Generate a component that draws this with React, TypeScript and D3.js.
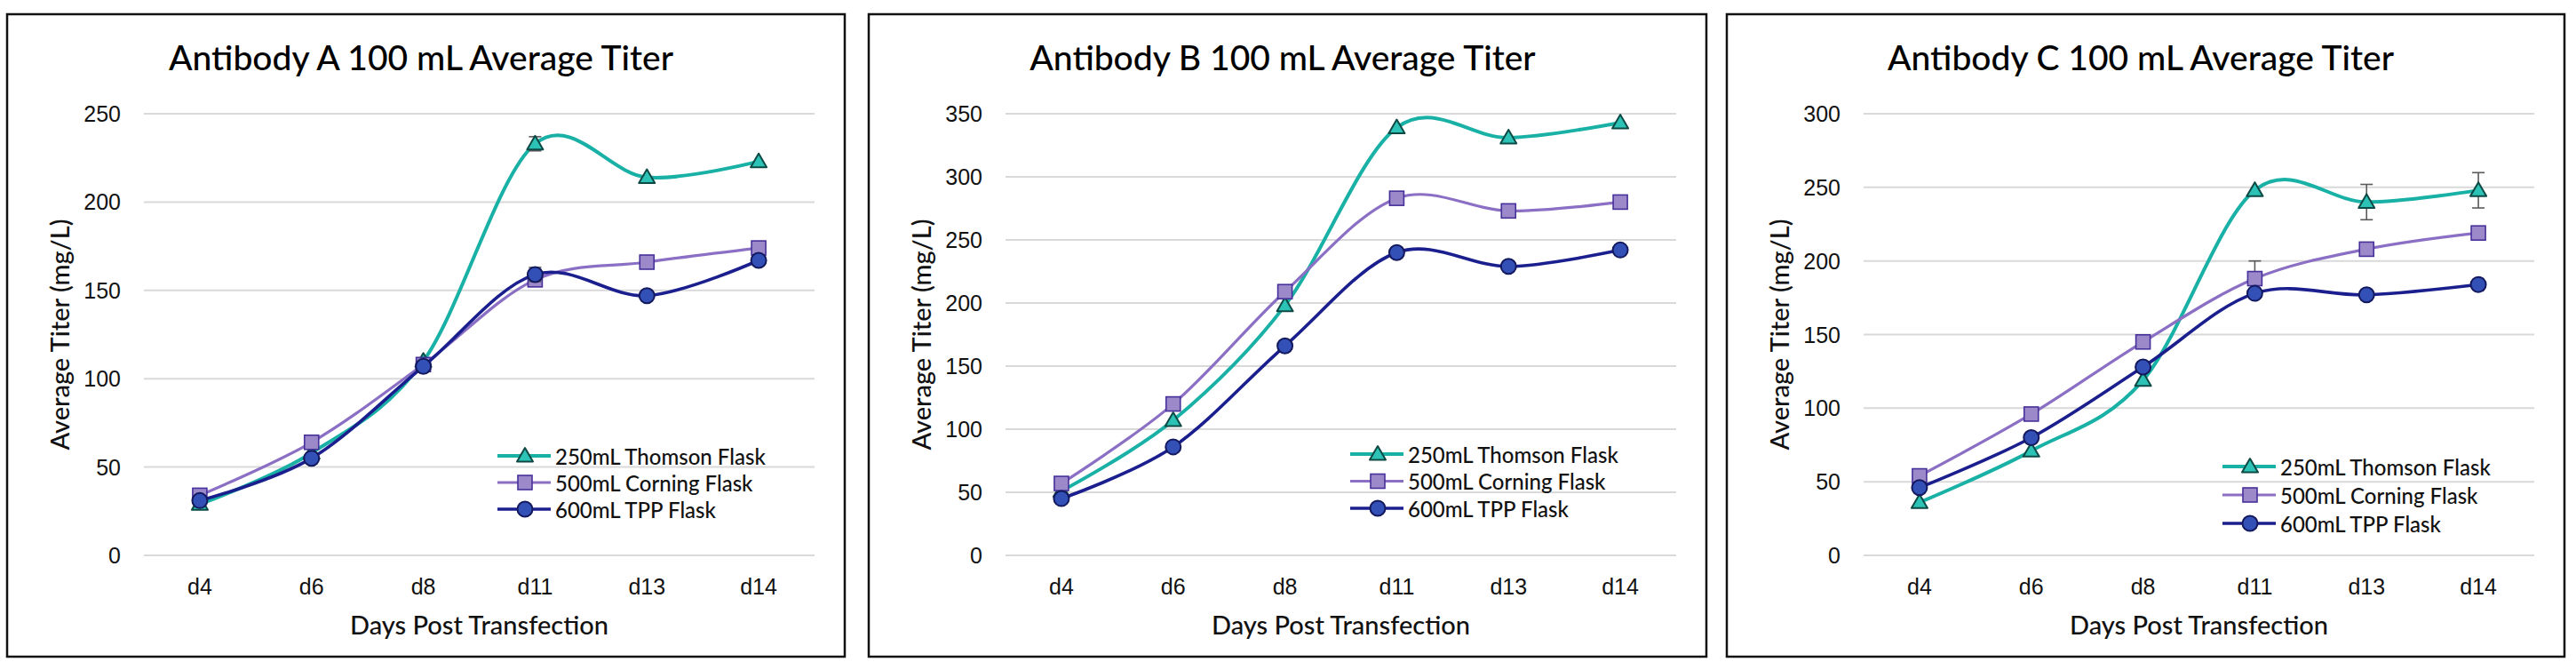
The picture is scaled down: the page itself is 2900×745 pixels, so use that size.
import * as d3 from "d3";

const days = ["d4", "d6", "d8", "d11", "d13", "d14"];

const seriesNames = ["250mL Thomson Flask", "500mL Corning Flask", "600mL TPP Flask"];

const titles = [
  "Antibody A 100 mL Average Titer",
  "Antibody B 100 mL Average Titer",
  "Antibody C 100 mL Average Titer",
];

const yMax = [250, 350, 300];

// Antibody A
const thomsonA = [29, 58, 110, 233, 214, 223];
const corningA = [34, 64, 108, 156, 166, 174];
const tppA = [31, 55, 107, 159, 147, 167];
const thomsonErrA = [0, 0, 0, 4, 0, 0];
const corningErrA = [0, 0, 0, 0, 0, 0];
const tppErrA = [0, 0, 0, 4, 0, 0];

// Antibody B
const thomsonB = [51, 107, 198, 339, 331, 343];
const corningB = [57, 120, 209, 283, 273, 280];
const tppB = [45, 86, 166, 240, 229, 242];
const thomsonErrB = [0, 0, 0, 0, 0, 0];
const corningErrB = [0, 0, 0, 0, 0, 0];
const tppErrB = [0, 0, 0, 0, 0, 0];

// Antibody C
const thomsonC = [36, 71, 119, 248, 240, 248];
const corningC = [54, 96, 145, 188, 208, 219];
const tppC = [46, 80, 128, 178, 177, 184];
const thomsonErrC = [0, 0, 0, 0, 12, 12];
const corningErrC = [0, 0, 0, 12, 0, 0];
const tppErrC = [0, 0, 0, 0, 0, 0];

const panelValues = [
  [thomsonA, corningA, tppA],
  [thomsonB, corningB, tppB],
  [thomsonC, corningC, tppC],
];
const panelErrors = [
  [thomsonErrA, corningErrA, tppErrA],
  [thomsonErrB, corningErrB, tppErrB],
  [thomsonErrC, corningErrC, tppErrC],
];

const seriesStyle = [
  { line: "#19b1a6", fill: "#2cc2b6", stroke: "#0e4a45", width: 4, marker: "triangle" },
  { line: "#8b6fc4", fill: "#9c89c9", stroke: "#46309a", width: 3.2, marker: "square" },
  { line: "#1b1f8e", fill: "#3350b6", stroke: "#14195e", width: 3.6, marker: "circle" },
];

// panel placement
const panelLeft = [8, 978, 1944];
const panelTop = 16;
const panelW = 943;
const panelH = 723;
const plot = { left: 154, right: 909, top: 112, bottom: 609 };
const legendPos = [
  { x: 552, y: 497, gap: 30 },
  { x: 542, y: 495, gap: 30.5 },
  { x: 558, y: 509, gap: 32 },
];

const fontMain = "Lato, 'Open Sans', sans-serif";
const fontTick = "'Liberation Sans', Arial, sans-serif";

function Marker({ type, x, y, s }: { type: string; x: number; y: number; s: any }) {
  if (type === "triangle") {
    const r = 9;
    const pts = [
      [x, y - r],
      [x + r, y + r * 0.72],
      [x - r, y + r * 0.72],
    ];
    return <polygon points={pts.map((p) => p.join(",")).join(" ")} fill={s.fill} stroke={s.stroke} strokeWidth={2} strokeLinejoin="round" />;
  }
  if (type === "square") {
    return <rect x={x - 8} y={y - 8} width={16} height={16} fill={s.fill} stroke={s.stroke} strokeWidth={1.6} />;
  }
  return <circle cx={x} cy={y} r={8.5} fill={s.fill} stroke={s.stroke} strokeWidth={2} />;
}

function Panel({ idx }: { idx: number }) {
  const x = d3.scalePoint<string>().domain(days).range([plot.left, plot.right]).padding(0.5);
  const y = d3.scaleLinear().domain([0, yMax[idx]]).range([plot.bottom, plot.top]);
  const ticks = d3.range(0, yMax[idx] + 1, 50);
  const line = d3
    .line<number>()
    .x((_, i) => x(days[i]) as number)
    .y((d) => y(d))
    .curve(d3.curveCardinal.tension(0));
  const lg = legendPos[idx];

  return (
    <g transform={`translate(${panelLeft[idx]},${panelTop})`}>
      <rect x={0} y={0} width={panelW} height={panelH} fill="#fff" stroke="#111" strokeWidth={2.5} />
      <text x={466} y={63} textAnchor="middle" fontFamily={fontMain} fontWeight={500} fontSize={39} fill="#000">
        {titles[idx]}
      </text>
      {ticks.map((t) => (
        <g key={t}>
          <line x1={plot.left} x2={plot.right} y1={y(t)} y2={y(t)} stroke="#d9d9d9" strokeWidth={2} />
          <text x={128} y={y(t) + 9} textAnchor="end" fontFamily={fontTick} fontSize={25} fill="#111">
            {t}
          </text>
        </g>
      ))}
      {days.map((d) => (
        <text key={d} x={x(d)} y={653} textAnchor="middle" fontFamily={fontTick} fontSize={25} fill="#111">
          {d}
        </text>
      ))}
      <text x={(plot.left + plot.right) / 2} y={698} textAnchor="middle" fontFamily={fontMain} fontWeight={500} fontSize={29} fill="#111">
        Days Post Transfection
      </text>
      <text
        transform={`translate(58,${(plot.top + plot.bottom) / 2}) rotate(-90)`}
        textAnchor="middle"
        dominantBaseline="central"
        fontFamily={fontMain}
        fontWeight={500}
        fontSize={29}
        fill="#111"
      >
        Average Titer (mg/L)
      </text>
      {panelValues[idx].map((vals, si) => {
        const s = seriesStyle[si];
        const errs = panelErrors[idx][si];
        return (
          <g key={si}>
            <path d={line(vals) ?? ""} fill="none" stroke={s.line} strokeWidth={s.width} strokeLinecap="round" />
            {vals.map((v, i) =>
              errs[i] > 0 ? (
                <g key={i} stroke="#5a5a5a" strokeWidth={1.6}>
                  <line x1={x(days[i])} x2={x(days[i])} y1={y(v - errs[i])} y2={y(v + errs[i])} />
                  <line x1={(x(days[i]) as number) - 7} x2={(x(days[i]) as number) + 7} y1={y(v + errs[i])} y2={y(v + errs[i])} />
                  <line x1={(x(days[i]) as number) - 7} x2={(x(days[i]) as number) + 7} y1={y(v - errs[i])} y2={y(v - errs[i])} />
                </g>
              ) : null
            )}
            {vals.map((v, i) => (
              <Marker key={i} type={s.marker} x={x(days[i]) as number} y={y(v)} s={s} />
            ))}
          </g>
        );
      })}
      {seriesNames.map((name, si) => {
        const s = seriesStyle[si];
        const cy = lg.y + si * lg.gap;
        return (
          <g key={name}>
            <line x1={lg.x} x2={lg.x + 60} y1={cy} y2={cy} stroke={s.line} strokeWidth={s.width} />
            <Marker type={s.marker} x={lg.x + 31} y={cy} s={s} />
            <text x={lg.x + 65} y={cy} dominantBaseline="central" fontFamily={fontMain} fontWeight={500} fontSize={24} fill="#111">
              {name}
            </text>
          </g>
        );
      })}
    </g>
  );
}

export default function App() {
  return (
    <svg width={2900} height={745} style={{ position: "absolute", left: 0, top: 0, background: "#fff" }}>
      <rect width={2900} height={745} fill="#fff" />
      {[0, 1, 2].map((i) => (
        <Panel key={i} idx={i} />
      ))}
    </svg>
  );
}
